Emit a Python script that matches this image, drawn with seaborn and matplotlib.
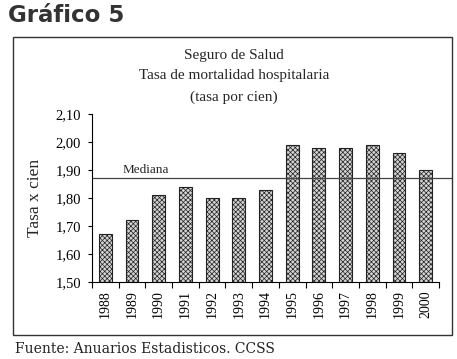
import matplotlib
matplotlib.use("Agg")
import matplotlib.pyplot as plt
import seaborn as sns
import pandas as pd
from matplotlib.patches import Rectangle
from matplotlib.ticker import FixedLocator, FuncFormatter

years = ["1988", "1989", "1990", "1991", "1992", "1993", "1994",
         "1995", "1996", "1997", "1998", "1999", "2000"]
tasa = [1.67, 1.72, 1.81, 1.84, 1.80, 1.80, 1.83,
        1.99, 1.98, 1.98, 1.99, 1.96, 1.90]
mediana = 1.87
yticks = [1.50, 1.60, 1.70, 1.80, 1.90, 2.00, 2.10]

sns.set_theme(style="white")
plt.rcParams["font.family"] = ["Liberation Serif", "DejaVu Serif"]
plt.rcParams["hatch.linewidth"] = 0.5
plt.rcParams["hatch.color"] = "#7a7a7a"

df = pd.DataFrame({"anio": years, "tasa": tasa})

fig = plt.figure(figsize=(4.57, 3.59), dpi=100)
fig.patch.set_facecolor("white")
ax = fig.add_axes([92/457, 1-282/359, (439-92)/457, (282-114)/359])

sns.barplot(data=df, x="anio", y="tasa", ax=ax, color="#d4d4d4",
            width=0.48, edgecolor="#222222", linewidth=0.8, saturation=1)
for p in ax.patches:
    p.set_hatch("xxxxxxx")

ax.set_ylim(1.50, 2.10)
ax.set_xlim(-0.5, len(years)-0.5)
ax.set_yticks(yticks)
ax.yaxis.set_major_formatter(FuncFormatter(lambda v, pos: f"{v:.2f}".replace(".", ",")))
ax.tick_params(axis="y", which="major", direction="out", length=3, width=0.8,
               colors="black", labelsize=10.5, pad=5, left=True)
ax.set_xticks(range(len(years)))
ax.set_xticklabels(years, rotation=90)
ax.tick_params(axis="x", which="major", length=0, labelsize=10, pad=6, colors="black")
ax.xaxis.set_minor_locator(FixedLocator([i - 0.5 for i in range(len(years)+1)]))
ax.tick_params(axis="x", which="minor", direction="out", length=4, width=0.8,
               color="black", bottom=True)
ax.set_xlabel("")
ax.set_ylabel("Tasa x cien", fontsize=12.5, labelpad=9)

for s in ["top", "right"]:
    ax.spines[s].set_visible(False)
for s in ["left", "bottom"]:
    ax.spines[s].set_color("black")
    ax.spines[s].set_linewidth(0.8)

ax.axhline(mediana, xmin=0, xmax=(452-92)/(439-92), color="#444444",
           linewidth=0.9, clip_on=False)
ax.text(1.5, mediana + 0.008, "Mediana", fontsize=9.5, ha="center", va="bottom")

fig.text(234/457, 1-55/359, "Seguro de Salud", ha="center", va="center", fontsize=11)
fig.text(234/457, 1-75/359, "Tasa de mortalidad hospitalaria", ha="center", va="center", fontsize=11)
fig.text(234/457, 1-97/359, "(tasa por cien)", ha="center", va="center", fontsize=11)

frame = Rectangle((13/457, 1-335/359), (452-13)/457, (335-37)/359,
                  transform=fig.transFigure, fill=False, edgecolor="#333333",
                  linewidth=1.0)
fig.patches.append(frame)

fig.text(8/457, 1-16/359, "Gráfico 5", fontsize=16.5, fontweight="bold",
         family="DejaVu Sans", color="#333333", ha="left", va="center")
fig.text(15/457, 1-349/359, "Fuente: Anuarios Estadisticos. CCSS", fontsize=10,
         family="DejaVu Serif", color="#222222", ha="left", va="center")

fig.savefig("out.png", dpi=100, facecolor="white")
